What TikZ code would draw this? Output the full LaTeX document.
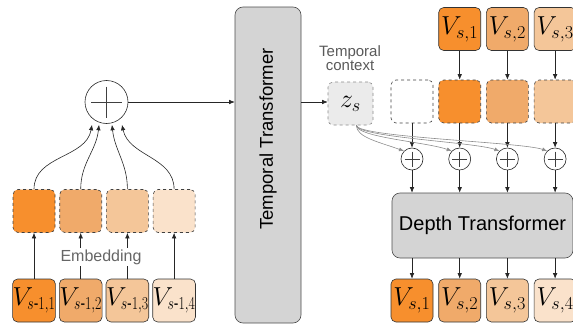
\RequirePackage{fix-cm}
\documentclass[tikz,border=0pt]{standalone}
\usepackage[no-math]{fontspec}
\setmainfont{Liberation Sans}
\usepackage{tikz}
\usetikzlibrary{calc,arrows,arrows.meta}
\usepackage{graphicx}
\usepackage{amsmath}
\usepackage{xcolor}

\definecolor{tokA}{RGB}{247,143,45}
\definecolor{tokB}{RGB}{240,170,106}
\definecolor{tokC}{RGB}{244,198,153}
\definecolor{tokD}{RGB}{250,226,203}
\definecolor{trfgray}{RGB}{212,212,212}

\newcommand{\prevsub}[1]{\scalebox{0.76}[1]{$\scriptstyle s\text{-}1,#1$}}

\begin{document}
\begin{tikzpicture}[x=1pt,y=1pt,line width=0.6pt,
        token/.style={draw=black!80, rounded corners=5pt, minimum width=42pt, minimum height=43pt, inner sep=0pt, font=\fontsize{26}{28}\selectfont},
        embed/.style={draw=black!75, dashed, rounded corners=5pt, minimum width=42pt, minimum height=43pt, inner sep=0pt},
        ctxbox/.style={draw=black!45, dashed, fill=black!8, rounded corners=5pt, minimum width=45pt, minimum height=43pt, inner sep=0pt, font=\fontsize{26}{28}\selectfont},
        trf/.style={draw=black!70, fill=trfgray, rounded corners=8pt, inner sep=0pt},
        addop/.style args={#1/#2}{circle, draw=black!85, fill=white, minimum size=#1, inner sep=0pt,
            path picture={
                \draw[black!75, shorten <=#2, shorten >=#2] (path picture bounding box.west) -- (path picture bounding box.east);
                \draw[black!75, shorten <=#2, shorten >=#2] (path picture bounding box.north) -- (path picture bounding box.south);
            }},
        arr/.style={-{Latex[length=5.5pt,width=4.5pt]}, black!85},
        ctxarr/.style={-{Latex[length=5pt,width=4pt]}, black!45},
    ]
        \useasboundingbox (0,0) rectangle (573,-324);

        \foreach \i/\c in {1/tokA,2/tokB,3/tokC,4/tokD} {
                \node[token, fill=\c] (prev\i) at ({34+46.7*(\i-1)},-300.5) {$V_{\prevsub{\i}}$};
                \node[embed, fill=\c] (pemb\i) at ({34+46.7*(\i-1)},-211) {};
                \draw[arr] (prev\i) -- (pemb\i);
            }
        \node[fill=white, text=black!60, inner sep=2pt, font=\fontsize{16}{18}\selectfont] (emblbl) at (101,-257) {Embedding};

        \node[addop=43pt/6pt] (sum) at (106.5,-102) {};
        \foreach \i/\d/\b in {1/-14.5/-100,2/-7.5/-96,3/5.5/-84,4/15.5/-78} {
                \draw[arr] (pemb\i.north) to[out=90,in=\b] ([xshift=\d pt,yshift=-1pt]sum.south);
            }

        \node[trf, minimum width=66pt, minimum height=316pt] (tt) at (268,-165) {};
        \node[rotate=90, font=\fontsize{18.5}{20}\selectfont] (ttlbl) at (268,-139) {Temporal Transformer};
        \draw[arr] (sum.east) -- (sum.east -| tt.west);

        \node[ctxbox] (zs) at (350.5,-103.5) {$z_s$};
        \node[align=center, text=black!65, font=\fontsize{15}{14}\selectfont] (ctxlbl) at (350,-58) {Temporal\\context};
        \draw[arr] (sum.east -| tt.east) -- (sum.east -| zs.west);

        \node[trf, minimum width=181pt, minimum height=65pt, font=\fontsize{20}{22}\selectfont] (dt) at (482.5,-225.5) {Depth Transformer};

        \foreach \i/\c in {1/white,2/tokA,3/tokB,4/tokC} {
                \node[embed, fill=\c] (cemb\i) at ({412+47.7*(\i-1)},-101.5) {};
                \node[addop=22pt/3.5pt] (add\i) at ({412+47.7*(\i-1)},-159) {};
                \draw[arr] (cemb\i) -- (add\i);
                \draw[arr] (add\i) -- (add\i |- dt.north);
                \draw[ctxarr] (zs.-75) .. controls +(0,-12) and +(-25,9) .. (add\i.135);
            }
        \foreach \i/\j/\c in {2/1/tokA,3/2/tokB,4/3/tokC} {
                \node[token, fill=\c] (cur\i) at ({412+47.7*(\i-1)},-29) {$V_{s,\j}$};
                \draw[arr] (cur\i) -- (cemb\i);
            }
        \foreach \i/\c in {1/tokA,2/tokB,3/tokC,4/tokD} {
                \node[token, fill=\c] (out\i) at ({412+47.7*(\i-1)},-300.5) {$V_{s,\i}$};
                \draw[arr] (dt.south -| out\i) -- (out\i);
            }
    \end{tikzpicture}
\end{document}
